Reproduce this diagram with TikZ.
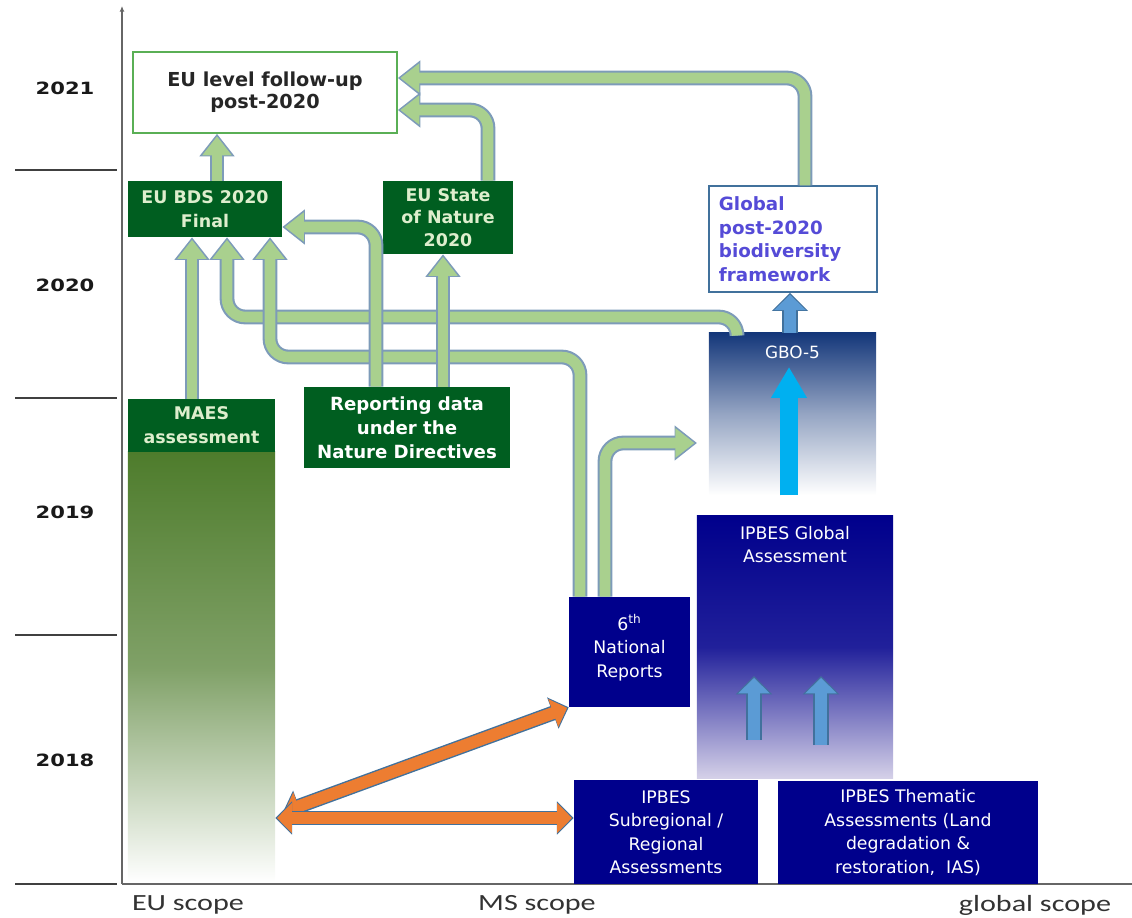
\documentclass[tikz,border=0pt]{standalone}
\usepackage{fontspec}
\setmainfont{DejaVu Sans}
\newfontfamily\yearfont[FakeStretch=1.25]{DejaVu Sans}
\newfontfamily\scopefont[FakeStretch=1.3]{Carlito}
\usetikzlibrary{arrows.meta,positioning}

\definecolor{dgreen}{RGB}{0,94,32}
\definecolor{mgreen}{RGB}{78,124,44}
\definecolor{eulgreen}{RGB}{90,175,85}
\definecolor{gfill}{RGB}{169,208,142}
\definecolor{gline}{RGB}{125,155,185}
\definecolor{bfill}{RGB}{91,155,213}
\definecolor{bline}{RGB}{65,113,156}
\definecolor{cyanarr}{RGB}{0,176,240}
\definecolor{ofill}{RGB}{237,125,49}
\definecolor{navy}{RGB}{0,0,140}
\definecolor{gbotop}{RGB}{20,55,122}
\definecolor{lav}{RGB}{205,200,228}
\definecolor{fwtext}{RGB}{85,75,215}
\definecolor{lgtext}{RGB}{222,238,205}

\tikzset{
  greenbox/.style={fill=dgreen, text=lgtext, font=\fontsize{12.4}{17}\selectfont\bfseries, align=center, inner sep=0pt},
  navybox/.style={fill=navy, text=white, font=\fontsize{12.3}{16.7}\selectfont, align=center, inner sep=0pt},
  yearlabel/.style={font=\yearfont\fontsize{12}{14}\selectfont\bfseries, text=black!90},
  scopelabel/.style={font=\scopefont\fontsize{16.5}{18}\selectfont, text=black!80},
  gout/.style={line width=10.5pt, draw=gline, rounded corners=13pt, -{Triangle[width=24pt,length=16pt]}},
  gin/.style={line width=7.5pt, draw=gfill, rounded corners=13pt, shorten >=1.8pt, -{Triangle[width=20pt,length=13.5pt]}},
  bout/.style={line width=11.5pt, draw=bline, -{Triangle[width=25pt,length=13pt]}},
  bin/.style={line width=9pt, draw=bfill, shorten >=1.4pt, -{Triangle[width=22pt,length=11pt]}},
  oout/.style={line width=10.5pt, draw=bline, {Triangle[width=23pt,length=12pt]}-{Triangle[width=23pt,length=12pt]}},
  oin/.style={line width=8.5pt, draw=ofill, shorten >=1.2pt, shorten <=1.2pt, {Triangle[width=20.5pt,length=10.5pt]}-{Triangle[width=20.5pt,length=10.5pt]}},
}
% outline pass, then fill pass
\newcommand\fatarrow[3]{\draw[#1] #3; \draw[#2] #3;}

\begin{document}
\begin{tikzpicture}[x=0.025cm, y=-0.025cm]
    \useasboundingbox (0,0) rectangle (1132,918);

    % axes and year rows
    \draw[line width=1.5pt, black!60, -{Latex[length=4pt,width=3.5pt]}] (122,884) -- (122,6);
    \draw[line width=1.5pt, black!60] (122,884) -- (1132,884);
    \foreach \y in {170,398,635,884}
        \draw[line width=1pt, black!75] (15,\y) -- (117,\y);
    \foreach \yr/\y in {2021/88,2020/285,2019/512,2018/760}
        \node[yearlabel] (y\yr) at (65,\y) {\yr};

    \node[scopelabel] (eusc) at (188,905) {EU scope};
    \node[scopelabel] (mssc) at (537,905) {MS scope};
    \node[scopelabel] (glsc) at (1035,905) {global scope};

    % EU side
    \node[draw=eulgreen, line width=1.1pt, fill=white, minimum width=6.6cm, minimum height=2.025cm,
          align=center, text=black!85, font=\fontsize{13.7}{15.6}\selectfont\bfseries] (eul) at (265,92.5)
          {EU level follow-up\\post-2020};
    \node[greenbox, minimum width=3.85cm, minimum height=1.4cm] (bds) at (205,209) {EU BDS 2020\\Final};
    \node[greenbox, minimum width=3.25cm, minimum height=1.825cm, font=\fontsize{12.4}{16}\selectfont\bfseries] (son) at (448,217.5) {EU State\\of Nature\\2020};
    \node[greenbox, minimum width=5.15cm, minimum height=2.025cm, text=white, font=\fontsize{12.9}{17}\selectfont\bfseries] (rep) at (407,427.5)
          {Reporting data\\under the\\Nature Directives};
    \node[minimum width=3.675cm, minimum height=10.75cm, top color=mgreen, bottom color=white, middle color=mgreen!72!white] (mbar) at (201.5,667) {};
    \node[greenbox, minimum width=3.675cm, minimum height=1.325cm] (maes) at (201.5,425.5) {MAES\\assessment};

    % global side
    \node[draw=bline, line width=1pt, fill=white, minimum width=4.2cm, minimum height=2.65cm, text width=3.7cm,
          align=left, text=fwtext, font=\fontsize{13}{16.7}\selectfont\bfseries] (glob) at (793,239)
          {Global\\post-2020\\biodiversity\\framework};
    \node[minimum width=4.175cm, minimum height=4.05cm, top color=gbotop, bottom color=white, middle color=gbotop!45!white] (gbo) at (792.5,414) {};
    \node[below=0.32cm of gbo.north, inner sep=0pt, text=white, font=\fontsize{12}{14}\selectfont] (gbotext) {GBO-5};
    \node[minimum width=4.9cm, minimum height=6.55cm, top color=navy, bottom color=lav!85!white, middle color=navy!84!lav] (ipg) at (795,647) {};
    \node[below=0.25cm of ipg.north, inner sep=0pt, text=white, align=center, font=\fontsize{12.3}{16.7}\selectfont] (ipgtext) {IPBES Global\\Assessment};
    \node[navybox, minimum width=3.025cm, minimum height=2.75cm] (nr) at (629.5,652) {6\textsuperscript{th}\\National\\Reports\\[-8pt]};
    \node[navybox, minimum width=4.6cm, minimum height=2.6cm] (sub) at (666,832) {IPBES\\Subregional /\\Regional\\Assessments};
    \node[navybox, minimum width=6.5cm, minimum height=2.575cm] (them) at (908,832.5)
          {IPBES Thematic\\Assessments (Land\\degradation \&\\restoration,\ \ IAS)};

    % green arrows
    \coordinate (nrtip) at (697,443);
    \fatarrow{gout}{gin}{(737,0 |- gbo.north) |- (227,317) -- (227,0 |- bds.south)}
    \fatarrow{gout}{gin}{(580,0 |- nr.north) |- (270,357) -- (270,0 |- bds.south)}
    \fatarrow{gout}{gin}{(605,0 |- nr.north) |- (nrtip)}
    \fatarrow{gout}{gin}{(376,0 |- rep.north) |- (bds.east |- 0,227)}
    \fatarrow{gout}{gin}{(443,0 |- rep.north) -- (443,0 |- son.south)}
    \fatarrow{gout}{gin}{(192,0 |- maes.north) -- (192,0 |- bds.south)}
    \fatarrow{gout}{gin}{(217,0 |- bds.north) -- (217,0 |- eul.south)}
    \fatarrow{gout}{gin}{(488,0 |- son.north) |- (eul.east |- 0,110)}
    \fatarrow{gout}{gin}{(805,0 |- glob.north) |- (eul.east |- 0,78)}

    % blue arrows
    \fatarrow{bout}{bin}{(790,0 |- gbo.north) -- (790,0 |- glob.south)}
    \draw[line width=12.5pt, cyanarr, -{Triangle[width=24pt,length=22pt]}] (789,0 |- gbo.south) -- (789,367);
    \fatarrow{bout}{bin}{(754,740) -- (754,676)}
    \fatarrow{bout}{bin}{(821,745) -- (821,676)}

    % orange arrows
    \coordinate (olft) at (283,812);
    \fatarrow{oout}{oin}{(olft) -- (nr.south west)}
    \fatarrow{oout}{oin}{(mbar.east |- 0,818) -- (sub.west |- 0,818)}
\end{tikzpicture}
\end{document}
